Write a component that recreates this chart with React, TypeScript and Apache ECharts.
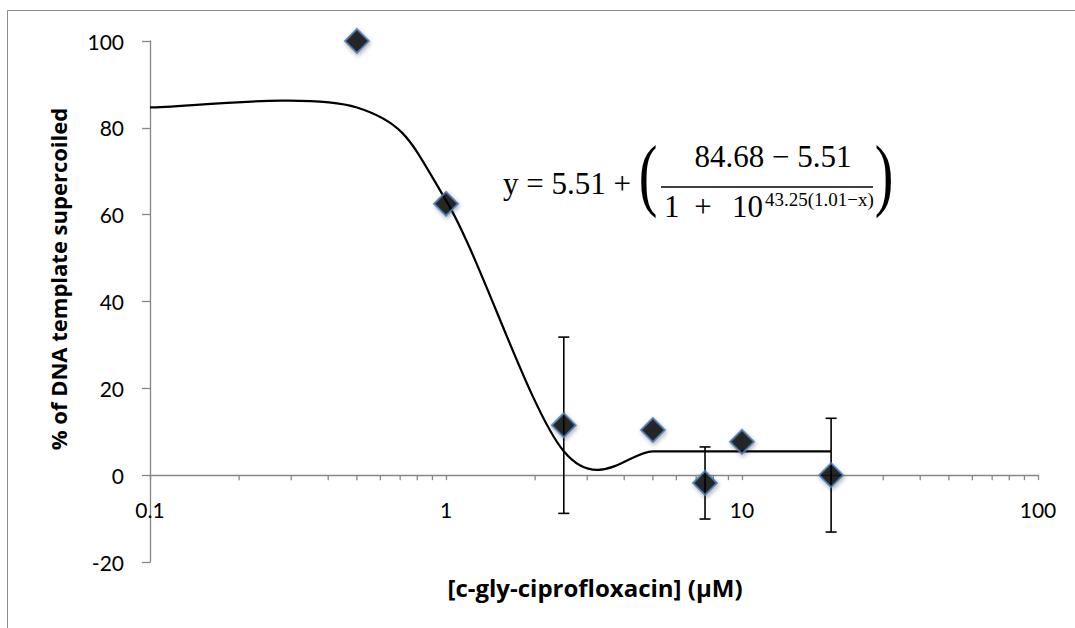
import React, { useEffect, useRef } from 'react';
import * as echarts from 'echarts';

// measured data points
const concentrations = [0.5, 1, 2.5, 5, 7.5, 10, 20];
const percentSupercoiled = [100, 62.5, 11.5, 10.4, -1.8, 7.7, 0];
const errorBars = [0, 0, 20.3, 0, 8.3, 0, 13.1];

// fitted curve points (smoothed line)
const fitX = [0.1, 0.5, 1, 2.5, 5, 7.5, 10, 20];
const fitY = [84.7, 84.7, 63.3, 5.5, 5.5, 5.5, 5.5, 5.5];

// axis ticks
const yMin = -20;
const yMax = 100;
const yStep = 20;
const xMin = 0.1;
const xMax = 100;
const xMinorTicks = [
  0.2, 0.3, 0.4, 0.5, 0.6, 0.7, 0.8, 0.9,
  2, 3, 4, 5, 6, 7, 8, 9,
  20, 30, 40, 50, 60, 70, 80, 90,
];

const yTitle = '% of DNA template supercoiled';
const xTitle = '[c-gly-ciprofloxacin] (µM)';

const AXIS_GRAY = '#868686';
const LABEL_FONT = 'Lato';
const TITLE_FONT = '"Open Sans"';
const MATH_FONT = '"Liberation Serif"';

const GRID_TOP = 41;
const GRID_BOTTOM = 66;
const CHART_H = 628;

function txt(x: number, y: number, text: string, size: number, extra: any = {}) {
  const { align, ...rest } = extra;
  return {
    type: 'text',
    x,
    y,
    silent: true,
    ...rest,
    style: {
      text,
      fontSize: size,
      fontFamily: MATH_FONT,
      fill: '#000',
      textAlign: align || 'left',
      align: align || 'left',
      textVerticalAlign: 'middle',
      verticalAlign: 'middle',
    },
  };
}

export default function App() {
  const ref = useRef<HTMLDivElement>(null);

  useEffect(() => {
    if (!ref.current) return;
    const chart = echarts.init(ref.current, undefined, { renderer: 'svg' });

    const gridHeight = CHART_H - GRID_TOP - GRID_BOTTOM;
    // move the x axis (line, ticks, labels) up to y = 0
    const xAxisOffset = -((0 - yMin) / (yMax - yMin)) * gridHeight;

    const option: any = {
      animation: false,
      backgroundColor: '#fff',
      grid: { left: 150, right: 37, top: GRID_TOP, bottom: GRID_BOTTOM, containLabel: false },
      xAxis: {
        type: 'log',
        logBase: 10,
        min: xMin,
        max: xMax,
        offset: xAxisOffset,
        axisLine: { show: true, onZero: false, lineStyle: { color: AXIS_GRAY, width: 1.3 } },
        axisTick: { show: true, inside: false, length: 5, lineStyle: { color: AXIS_GRAY, width: 1.3 } },
        axisLabel: {
          fontSize: 21,
          fontFamily: LABEL_FONT,
          color: '#000',
          margin: 24,
          formatter: (v: number) => String(Math.round(v * 10) / 10),
        },
        splitLine: { show: false },
        minorTick: { show: false },
      },
      yAxis: {
        type: 'value',
        min: yMin,
        max: yMax,
        interval: yStep,
        axisLine: { show: true, onZero: false, lineStyle: { color: AXIS_GRAY, width: 1.3 } },
        axisTick: { show: true, inside: false, length: 8, lineStyle: { color: AXIS_GRAY, width: 1.3 } },
        axisLabel: { fontSize: 21, fontFamily: LABEL_FONT, color: '#000', margin: 26 },
        splitLine: { show: false },
      },
      series: [
        {
          type: 'custom',
          name: 'minor ticks',
          data: xMinorTicks.map((v) => [v, 0]),
          encode: { x: 0, y: 1 },
          z: 1,
          silent: true,
          renderItem: (params: any, api: any) => {
            const p = api.coord([api.value(0), 0]);
            return {
              type: 'line',
              shape: { x1: p[0], y1: p[1], x2: p[0], y2: p[1] + 5 },
              style: { stroke: AXIS_GRAY, lineWidth: 1.3 },
            };
          },
        },
        {
          type: 'custom',
          name: 'fit',
          data: fitX.map((x, i) => [x, fitY[i]]),
          encode: { x: 0, y: 1 },
          z: 2,
          silent: true,
          renderItem: (params: any, api: any) => {
            if (params.dataIndex !== 0) return null;
            const pts = fitX.map((x, i) => api.coord([x, fitY[i]]));
            const children: any[] = [];
            const n = pts.length;
            for (let i = 0; i < n - 1; i++) {
              const p0 = pts[Math.max(i - 1, 0)];
              const p1 = pts[i];
              const p2 = pts[i + 1];
              const p3 = pts[Math.min(i + 2, n - 1)];
              children.push({
                type: 'bezierCurve',
                shape: {
                  x1: p1[0],
                  y1: p1[1],
                  x2: p2[0],
                  y2: p2[1],
                  cpx1: p1[0] + (p2[0] - p0[0]) / 6,
                  cpy1: p1[1] + (p2[1] - p0[1]) / 6,
                  cpx2: p2[0] - (p3[0] - p1[0]) / 6,
                  cpy2: p2[1] - (p3[1] - p1[1]) / 6,
                },
                style: { stroke: '#000', lineWidth: 2.2, fill: null },
              });
            }
            return { type: 'group', children };
          },
        },
        {
          type: 'custom',
          name: 'error bars',
          data: concentrations
            .map((x, i) => [x, percentSupercoiled[i], errorBars[i]])
            .filter((d) => d[2] > 0),
          encode: { x: 0, y: 1 },
          z: 3,
          silent: true,
          renderItem: (params: any, api: any) => {
            const x = api.value(0);
            const y = api.value(1);
            const e = api.value(2);
            const top = api.coord([x, y + e]);
            const bot = api.coord([x, y - e]);
            const half = 5.5;
            const st = { stroke: '#000', lineWidth: 1.6 };
            return {
              type: 'group',
              children: [
                { type: 'line', shape: { x1: top[0], y1: top[1], x2: bot[0], y2: bot[1] }, style: st },
                { type: 'line', shape: { x1: top[0] - half, y1: top[1], x2: top[0] + half, y2: top[1] }, style: st },
                { type: 'line', shape: { x1: bot[0] - half, y1: bot[1], x2: bot[0] + half, y2: bot[1] }, style: st },
              ],
            };
          },
        },
        {
          type: 'scatter',
          name: 'data',
          data: concentrations.map((x, i) => [x, percentSupercoiled[i]]),
          symbol: 'diamond',
          symbolSize: 24,
          z: 5,
          itemStyle: {
            color: '#000',
            borderColor: '#4f81bd',
            borderWidth: 2,
            shadowBlur: 4,
            shadowOffsetX: 1,
            shadowOffsetY: 2,
            shadowColor: 'rgba(0,0,0,0.35)',
          },
        },
      ],
      graphic: [
        {
          type: 'rect',
          silent: true,
          z: -10,
          shape: { x: 7.5, y: 10.5, width: 1100, height: 700 },
          style: { fill: null, stroke: '#8c8c8c', lineWidth: 1 },
        },
        {
          type: 'text',
          x: 58,
          y: 279,
          rotation: Math.PI / 2,
          silent: true,
          style: {
            text: yTitle,
            fontSize: 22,
            fontWeight: 'bold',
            fontFamily: TITLE_FONT,
            fill: '#000',
            textAlign: 'center',
            align: 'center',
            textVerticalAlign: 'middle',
            verticalAlign: 'middle',
          },
        },
        {
          type: 'text',
          x: 595,
          y: 587,
          silent: true,
          style: {
            text: xTitle,
            fontSize: 24,
            fontWeight: 'bold',
            fontFamily: TITLE_FONT,
            fill: '#000',
            textAlign: 'center',
            align: 'center',
            textVerticalAlign: 'middle',
            verticalAlign: 'middle',
          },
        },
        // equation
        txt(503, 183, 'y = 5.51 +', 31),
        txt(648, 174, '(', 80, { scaleX: 0.7, align: 'center' }),
        txt(884, 174, ')', 80, { scaleX: 0.7, align: 'center' }),
        txt(773, 156, '84.68 − 5.51', 31, { align: 'center' }),
        {
          type: 'line',
          silent: true,
          shape: { x1: 661, y1: 187, x2: 873, y2: 187 },
          style: { stroke: '#000', lineWidth: 1.5 },
        },
        txt(664, 206, '1', 31),
        txt(703, 206, '+', 31, { align: 'center' }),
        txt(763, 206, '10', 31, { align: 'right' }),
        txt(765, 199, '43.25(1.01−x)', 19),
      ],
    };

    chart.setOption(option);
    return () => chart.dispose();
  }, []);

  return (
    <div
      ref={ref}
      style={{ position: 'absolute', left: 0, top: 0, width: 1075, height: 628, background: '#fff' }}
    />
  );
}
